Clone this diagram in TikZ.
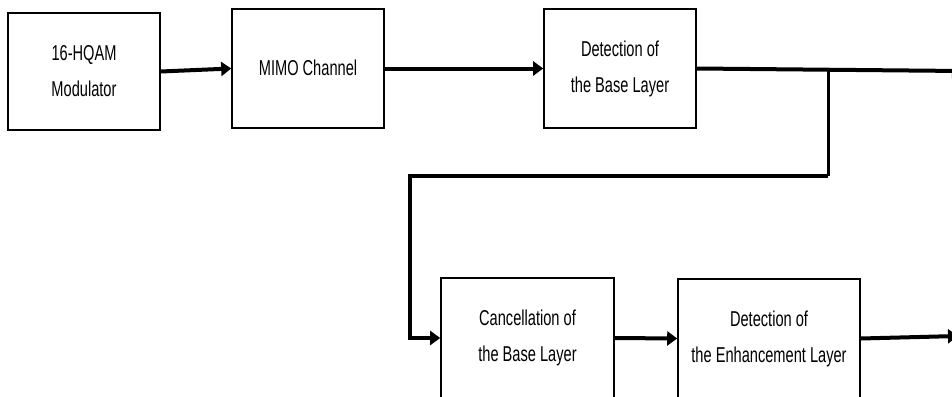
\documentclass[tikz,border=0pt]{standalone}
\usepackage{fontspec}
\setmainfont{Liberation Sans}
\usetikzlibrary{arrows.meta}
\newcommand\sx[1]{\scalebox{0.68}[1]{#1}}
\begin{document}
\begin{tikzpicture}[x=1pt,y=-1pt,
  blk/.style={draw=black,line width=1.6pt,inner sep=0pt,align=center,
    font=\fontsize{21.5}{36}\selectfont},
  conn/.style={line width=4pt,-{Triangle[length=10pt,width=14pt]}},
  branch/.style={line width=3pt}]
\useasboundingbox (0,0) rectangle (952,396);
\node[blk,minimum width=152pt,minimum height=117pt] (b1) at (84,71.5) {\sx{16-HQAM}\\\sx{Modulator}};
\node[blk,minimum width=152pt,minimum height=119pt] (b2) at (308,68.5) {\raisebox{2pt}{\sx{MIMO Channel}}};
\node[blk,minimum width=152pt,minimum height=119pt] (b3) at (620,68.5) {\sx{Detection of}\\\sx{the Base Layer}};
\node[blk,minimum width=173pt,minimum height=120pt] (b4) at (527.5,338) {\sx{Cancellation of}\\\sx{the Base Layer}};
\node[blk,minimum width=182pt,minimum height=119pt] (b5) at (769,338.5) {\sx{Detection of}\\\sx{the Enhancement Layer}};
\coordinate (o1) at (962,71);
\coordinate (o2) at (958,336);
\coordinate (j) at (828,70);
\coordinate (c1) at (828,176);
\coordinate (c2) at (410,176);
\draw[conn] (b1.east) -- (b2.west);
\draw[conn] (b2.east) -- (b3.west);
\draw[conn] (b3.east) -- (o1);
\draw[branch] (j) -- (c1);
\draw[conn,line join=miter] (c1) -- (c2) |- (b4.west);
\draw[conn] (b4.east) -- (b5.west);
\draw[conn] (b5.east) -- (o2);
\end{tikzpicture}
\end{document}
